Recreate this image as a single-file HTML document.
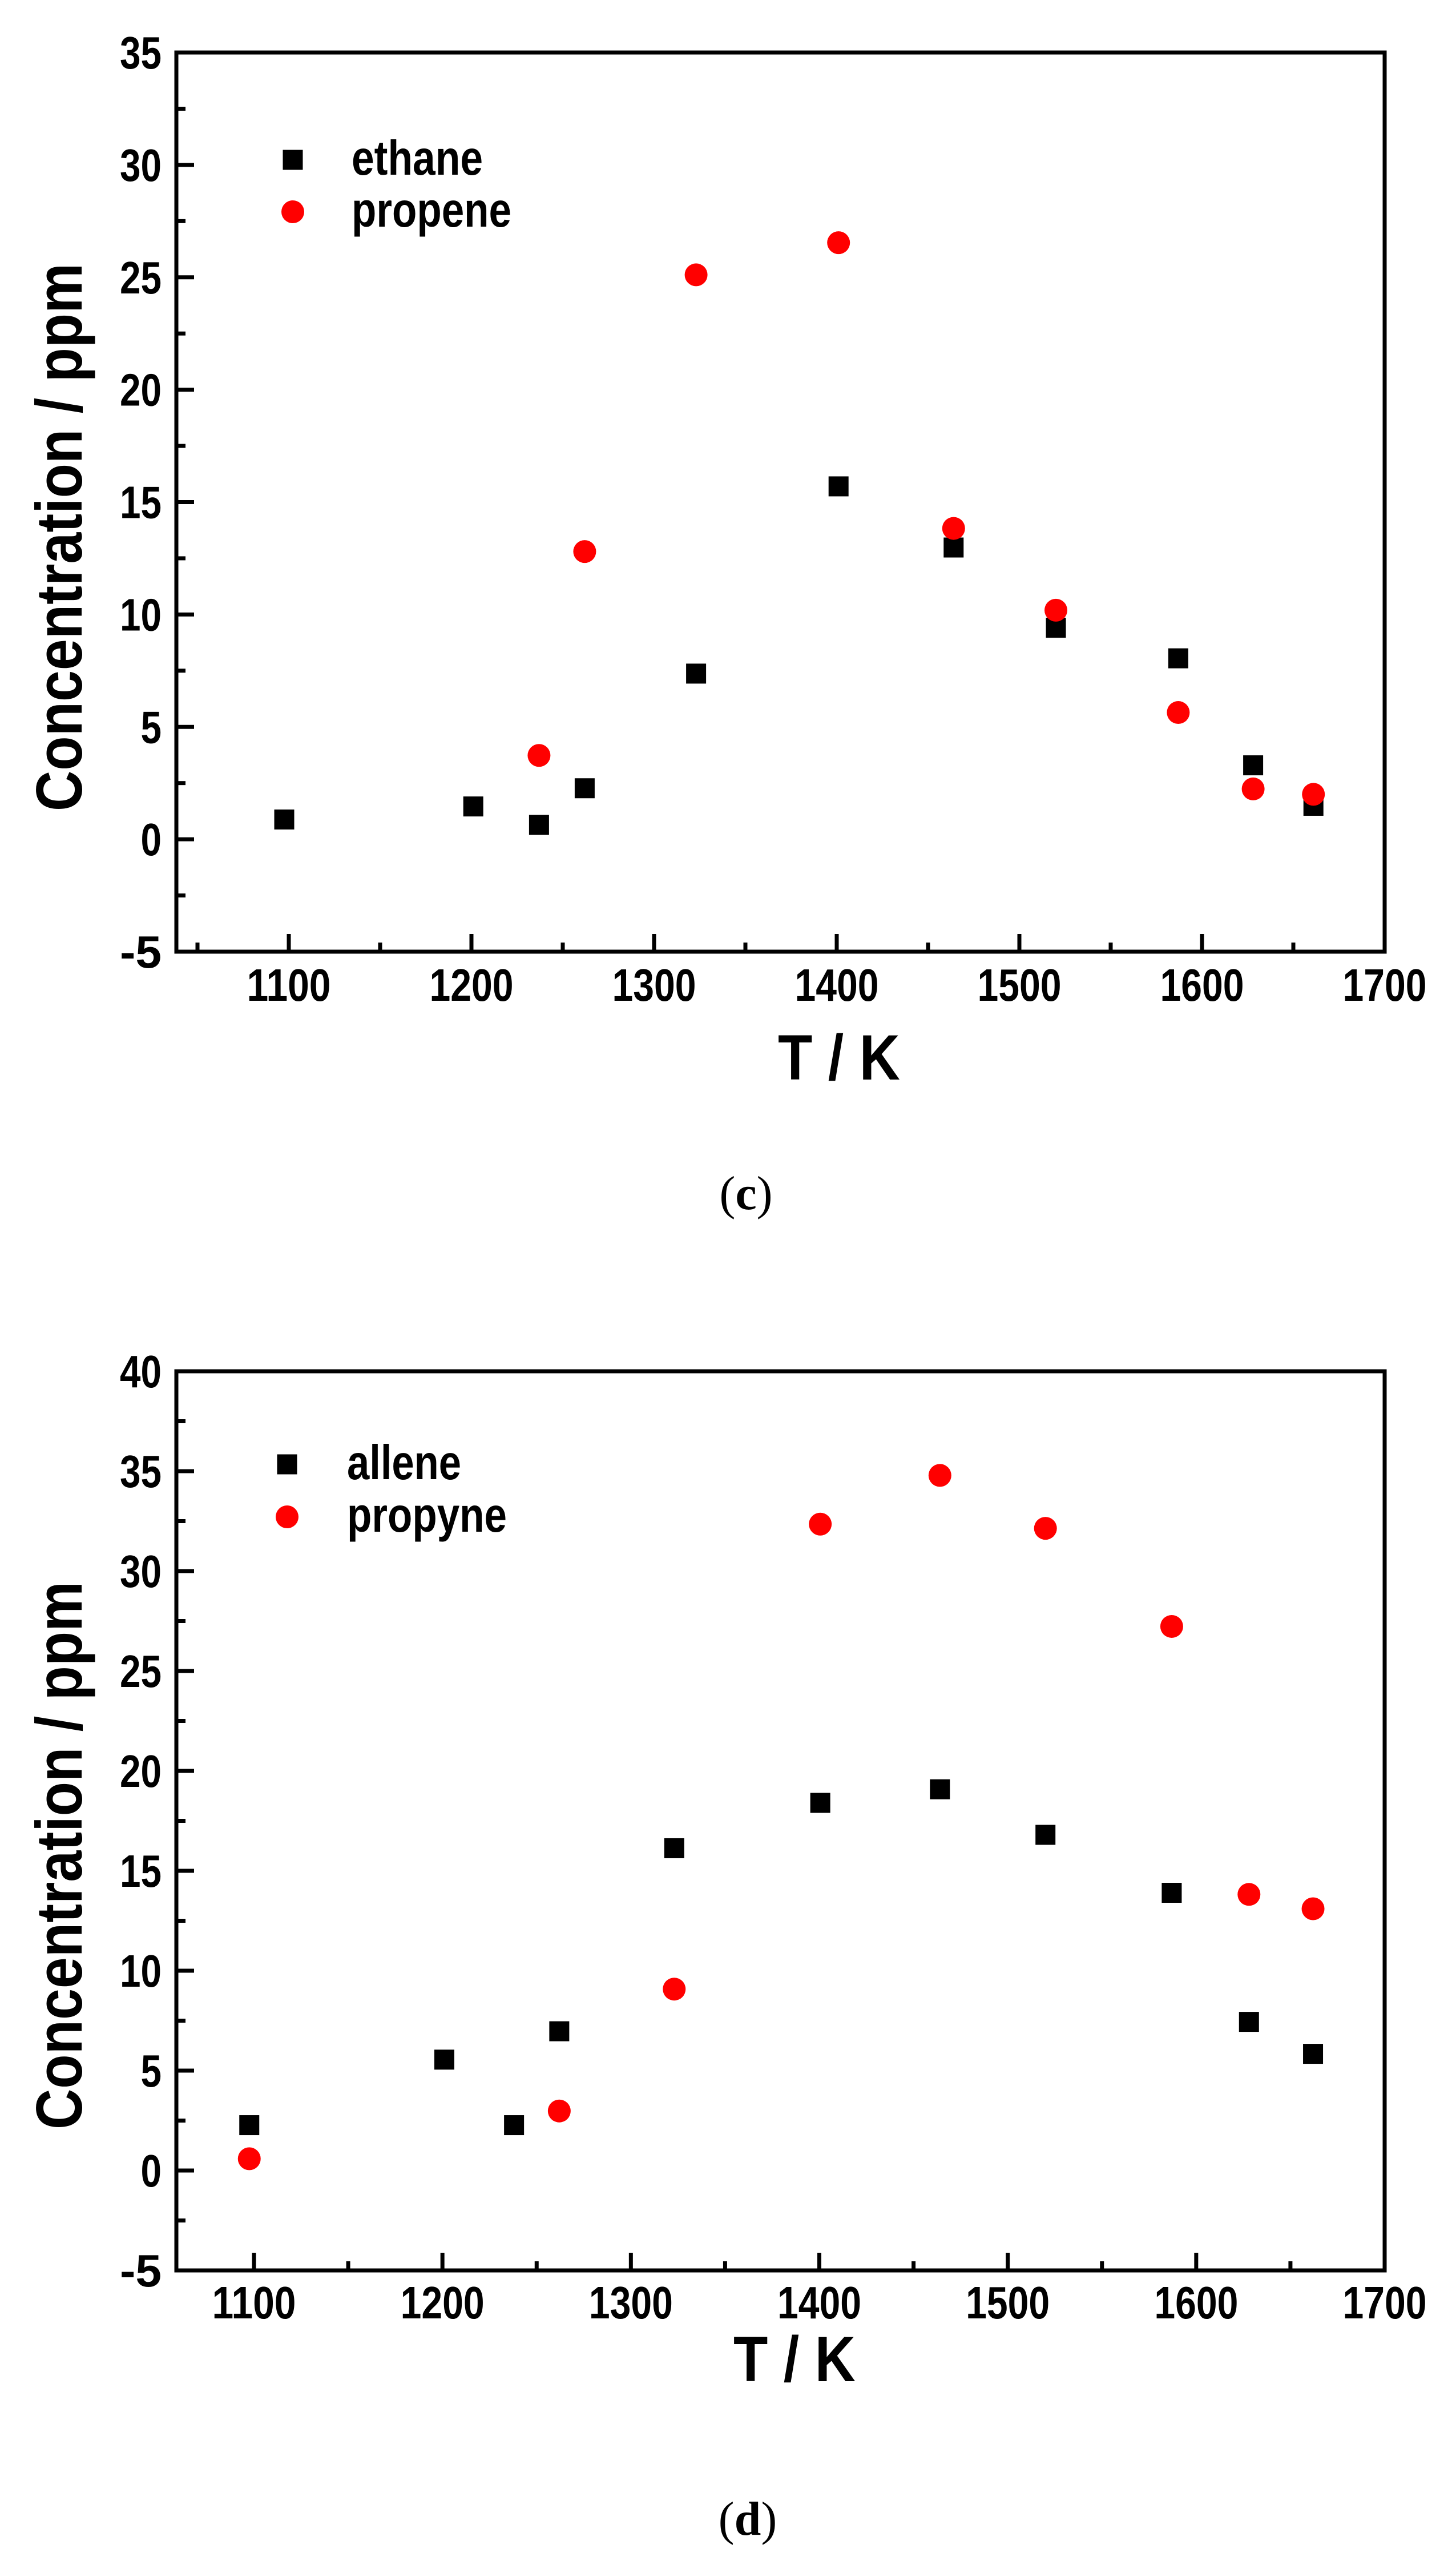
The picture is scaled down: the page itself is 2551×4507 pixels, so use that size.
<!DOCTYPE html>
<html><head><meta charset="utf-8"><style>
html,body{margin:0;padding:0;background:#fff;}
svg{display:block;font-family:"Liberation Sans",sans-serif;}
</style></head><body>
<svg id="fig" width="2551" height="4507" viewBox="0 0 2551 4507" xmlns="http://www.w3.org/2000/svg"></svg>
<script>
// Panel (c) data
const tempC_ethane = [1097.5,1201,1237,1262,1323,1401,1464,1520,1587,1628,1661];
const ethane = [0.88,1.46,0.64,2.27,7.37,15.7,12.98,9.41,8.05,3.29,1.49];
const tempC_propene = [1237,1262,1323,1401,1464,1520,1587,1628,1661];
const propene = [3.73,12.8,25.11,26.54,13.83,10.19,5.64,2.24,2.0];
// Panel (d) data
const tempD_allene = [1097.5,1201,1238,1262,1323,1400.5,1464,1520,1587,1628,1662];
const allene = [2.27,5.55,2.27,6.97,16.13,18.4,19.08,16.8,13.9,7.44,5.84];
const tempD_propyne = [1097.5,1262,1323,1400.5,1464,1520,1587,1628,1662];
const propyne = [0.59,2.98,9.08,32.35,34.79,32.14,27.23,13.82,13.1];
const xTicks = [1100,1200,1300,1400,1500,1600,1700];
const yTicksC = [-5,0,5,10,15,20,25,30,35];
const yTicksD = [-5,0,5,10,15,20,25,30,35,40];

const NS="http://www.w3.org/2000/svg";
const svg=document.getElementById('fig');
function mk(tag,attrs,parent){const e=document.createElementNS(NS,tag);for(const k in attrs)e.setAttribute(k,attrs[k]);(parent||svg).appendChild(e);return e;}
function txt(s,x,y,size,anchor,len,parent,extra){
  const t=mk('text',{x:x,y:y,'font-size':size,'font-weight':'bold','text-anchor':anchor,fill:'#000'},parent);
  if(len){t.setAttribute('textLength',len);t.setAttribute('lengthAdjust','spacingAndGlyphs');}
  if(extra)for(const k in extra)t.setAttribute(k,extra[k]);
  t.textContent=s;return t;
}

function panel(cfg){
  const g=mk('g',{});
  
  
  const L=309,R=2426,T=cfg.top,B=cfg.bottom;
  const xs=v=>cfg.x0px+(v-1100)*(R-cfg.x0px)/600;
  const ys=v=>T+(cfg.ymax-v)*(B-T)/(cfg.ymax-cfg.ymin);
  const frame=mk('rect',{x:L,y:T,width:R-L,height:B-T,fill:'none',stroke:'#000','stroke-width':7},g);
  
  
  for(let v=1050;v<=1700;v+=50){
    const px=xs(v); if(px<L+2||px>R-2)continue;
    const len=(v%100===0)?31:16;
    const tk=mk('line',{x1:px,y1:B,x2:px,y2:B-len,stroke:'#000','stroke-width':7},g);
    
    
  }
  xTicks.forEach(v=>{
    const l=txt(String(v),xs(v),cfg.xLabelY,80,'middle',147,g);
    
    
  });
  for(let v=cfg.ymin;v<=cfg.ymax;v+=2.5){
    const py=ys(v); if(py<T+2||py>B-2)continue;
    const len=(v%5===0)?31:16;
    const tk=mk('line',{x1:L,y1:py,x2:L+len,y2:py,stroke:'#000','stroke-width':7},g);
    
    
  }
  cfg.yTicks.forEach(v=>{
    const s=String(v);
    const l=txt(s,283,ys(v)+28,80,'end',s.length*36.5,g);
    
    
  });
  const yt=txt('Concentration / ppm',0,0,114,'middle',960,g,{transform:'translate(143,'+cfg.yTitleY+') rotate(-90)'});
  
  
  const xt=txt('T / K',cfg.xTitleX,cfg.xTitleY,112,'middle',214,g);
  
  
  cfg.sq.x.forEach((t,i)=>{
    const r=mk('rect',{x:xs(t)-17.5,y:ys(cfg.sq.y[i])-17.5,width:35,height:35,fill:'#000'},g);
    
    
  });
  cfg.ci.x.forEach((t,i)=>{
    const c=mk('circle',{cx:xs(t),cy:ys(cfg.ci.y[i]),r:20,fill:'#ff0000'},g);
    
    
  });
  const lg=mk('g',{},g);
  
  
  const ls=mk('rect',{x:cfg.legX-17.5,y:cfg.leg1-17.5,width:35,height:35,fill:'#000'},lg);
  
  
  const l1=txt(cfg.sq.name,cfg.legTX,cfg.leg1+26,85,'start',cfg.sq.len,lg);
  
  
  const lc=mk('circle',{cx:cfg.legX,cy:cfg.leg2,r:20,fill:'#ff0000'},lg);
  
  
  const l2=txt(cfg.ci.name,cfg.legTX,cfg.leg2+26,85,'start',cfg.ci.len,lg);
  
  
  const cap=mk('text',{x:cfg.capX,y:cfg.capY,'font-size':84,'text-anchor':'middle','font-family':'"Liberation Serif",serif',fill:'#000'},g);
  
  
  cap.innerHTML='(<tspan font-weight="bold">'+cfg.letter+'</tspan>)';
}

panel({name:'chart-c',top:92,bottom:1667,ymin:-5,ymax:35,x0px:506,yTicks:yTicksC,
  xLabelY:1753,yTitleY:941,xTitleX:1470,xTitleY:1891,
  sq:{x:tempC_ethane,y:ethane,name:'ethane',len:230},
  ci:{x:tempC_propene,y:propene,name:'propene',len:280},
  legX:513,legTX:616,leg1:280,leg2:371,capX:1307,capY:2118,letter:'c'});
panel({name:'chart-d',top:2402,bottom:3977,ymin:-5,ymax:40,x0px:445,yTicks:yTicksD,
  xLabelY:4061,yTitleY:3250,xTitleX:1392,xTitleY:4171,
  sq:{x:tempD_allene,y:allene,name:'allene',len:200},
  ci:{x:tempD_propyne,y:propyne,name:'propyne',len:280},
  legX:503,legTX:608,leg1:2565,leg2:2657,capX:1310,capY:4440,letter:'d'});
</script>
</body></html>
